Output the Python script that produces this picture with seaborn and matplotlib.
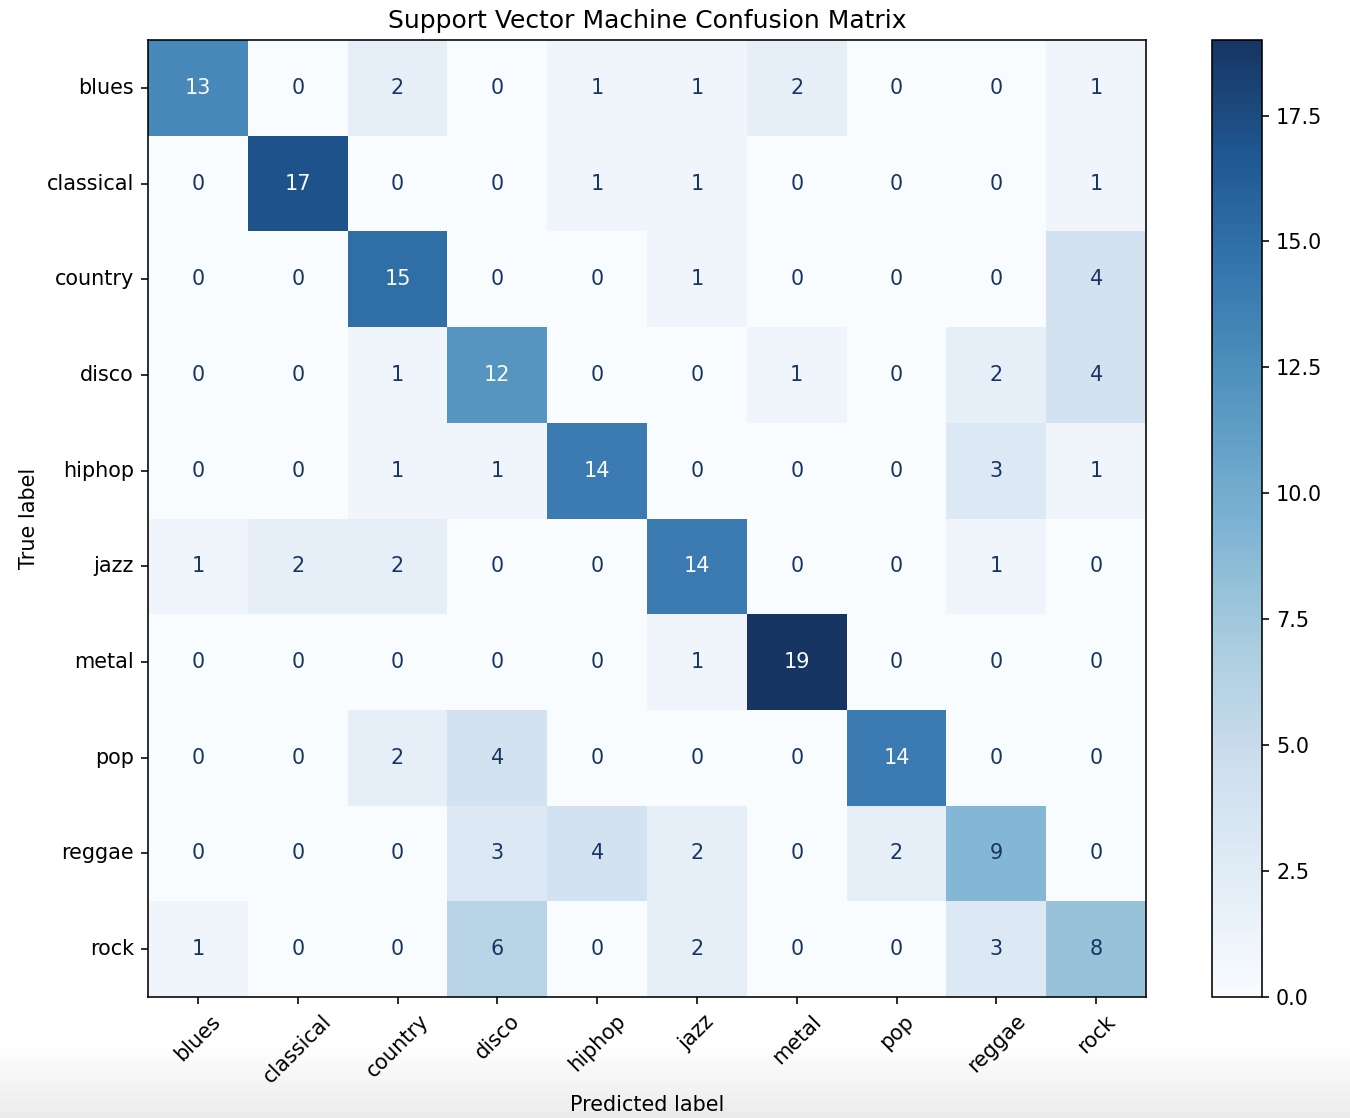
import numpy as np
import pandas as pd
import matplotlib
matplotlib.use("Agg")
import matplotlib.pyplot as plt
import matplotlib.colors as mcolors
import seaborn as sns

genres = ["blues", "classical", "country", "disco", "hiphop",
          "jazz", "metal", "pop", "reggae", "rock"]

row_blues     = [13, 0, 2, 0, 1, 1, 2, 0, 0, 1]
row_classical = [0, 17, 0, 0, 1, 1, 0, 0, 0, 1]
row_country   = [0, 0, 15, 0, 0, 1, 0, 0, 0, 4]
row_disco     = [0, 0, 1, 12, 0, 0, 1, 0, 2, 4]
row_hiphop    = [0, 0, 1, 1, 14, 0, 0, 0, 3, 1]
row_jazz      = [1, 2, 2, 0, 0, 14, 0, 0, 1, 0]
row_metal     = [0, 0, 0, 0, 0, 1, 19, 0, 0, 0]
row_pop       = [0, 0, 2, 4, 0, 0, 0, 14, 0, 0]
row_reggae    = [0, 0, 0, 3, 4, 2, 0, 2, 9, 0]
row_rock      = [1, 0, 0, 6, 0, 2, 0, 0, 3, 8]

cm = pd.DataFrame(
    [row_blues, row_classical, row_country, row_disco, row_hiphop,
     row_jazz, row_metal, row_pop, row_reggae, row_rock],
    index=genres, columns=genres,
)

# a slightly softened version of the Blues colormap
base = plt.get_cmap("Blues")(np.linspace(0, 1, 256))[:, :3]
hsv = mcolors.rgb_to_hsv(base)
hsv[:, 1] *= 0.83
hsv[:, 2] = hsv[:, 2] ** 1.1
cmap = mcolors.ListedColormap(mcolors.hsv_to_rgb(hsv), name="muted_blues")

dpi = 144
fig = plt.figure(figsize=(1350 / dpi, 1118 / dpi), dpi=dpi)

# soft grey fade along the bottom edge
bg = fig.add_axes([0, 0, 1, 1], zorder=-10)
fade = np.ones((1118, 2))
ys = np.arange(1118)
fade[ys > 1040] = (1 - 0.08 * ((ys[ys > 1040] - 1040) / 78.0))[:, None]
bg.imshow(fade, cmap="gray", vmin=0, vmax=1, aspect="auto", extent=[0, 1, 0, 1],
          origin="upper")
bg.set_axis_off()

ax = fig.add_axes([148 / 1350, 1 - 997 / 1118, 998 / 1350, 957 / 1118])
cax = fig.add_axes([1212 / 1350, 1 - 997 / 1118, 50 / 1350, 957 / 1118])

fs = 10.4
vmin, vmax = 0, cm.values.max()
sns.heatmap(cm, ax=ax, cbar_ax=cax, cmap=cmap, vmin=vmin, vmax=vmax,
            annot=True, fmt="d", annot_kws={"fontsize": fs}, square=False)

# text colour flips at the midpoint of the colour range
thresh = (vmax + vmin) / 2.0
for txt, val in zip(ax.texts, cm.values.ravel()):
    txt.set_color(cmap(1.0) if val < thresh else cmap(0.0))

for s in ax.spines.values():
    s.set_visible(True)
    s.set_linewidth(0.8)
    s.set_color("black")

ax.tick_params(axis="both", length=3.5, width=0.8, labelsize=fs, color="black")
ax.set_xticklabels(genres, rotation=45, ha="center")
ax.set_yticklabels(genres, rotation=0)
ax.set_xlabel("Predicted label", fontsize=fs)
ax.set_ylabel("True label", fontsize=fs)
ax.set_title("Support Vector Machine Confusion Matrix", fontsize=12.5)

cbar = ax.collections[0].colorbar
cbar.outline.set_linewidth(0.8)
cbar.outline.set_edgecolor("black")
cbar.set_ticks(np.arange(0, 19, 2.5))
cbar.set_ticklabels([f"{t:.1f}" for t in np.arange(0, 19, 2.5)])
cax.tick_params(length=3.5, width=0.8, labelsize=fs)

fig.savefig("out.png", dpi=dpi)
